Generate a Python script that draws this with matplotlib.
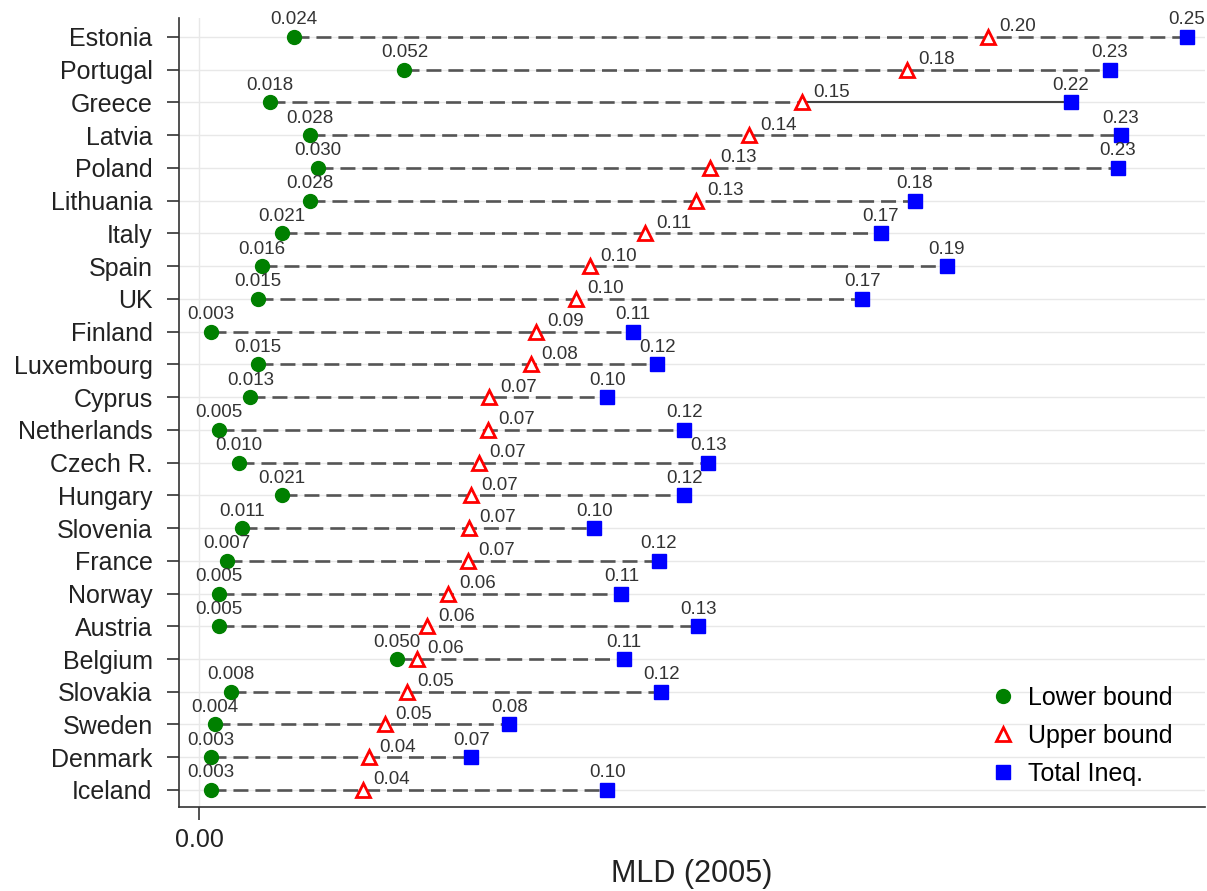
import matplotlib
matplotlib.use("Agg")
import matplotlib.pyplot as plt

plt.rcParams['font.family'] = ['Liberation Sans', 'DejaVu Sans']
plt.rcParams['lines.scale_dashes'] = False

# Daten (von oben nach unten)
countries = ['Estonia', 'Portugal', 'Greece', 'Latvia', 'Poland', 'Lithuania',
             'Italy', 'Spain', 'UK', 'Finland', 'Luxembourg', 'Cyprus',
             'Netherlands', 'Czech R.', 'Hungary', 'Slovenia', 'France',
             'Norway', 'Austria', 'Belgium', 'Slovakia', 'Sweden', 'Denmark',
             'Iceland']
lower = [0.024, 0.052, 0.018, 0.028, 0.030, 0.028, 0.021, 0.016, 0.015,
         0.003, 0.015, 0.013, 0.005, 0.010, 0.021, 0.011, 0.007, 0.005,
         0.005, 0.050, 0.008, 0.004, 0.003, 0.003]
upper = [0.1998, 0.1793, 0.1527, 0.1393, 0.1294, 0.1259, 0.1130, 0.0990,
         0.0955, 0.0854, 0.0841, 0.0735, 0.0732, 0.0709, 0.0689, 0.0684,
         0.0681, 0.0631, 0.0578, 0.0551, 0.0527, 0.0471, 0.0430, 0.0415]
total = [0.2500, 0.2305, 0.2206, 0.2333, 0.2325, 0.1811, 0.1725, 0.1892,
         0.1679, 0.1099, 0.1160, 0.1033, 0.1228, 0.1289, 0.1228, 0.1000,
         0.1163, 0.1069, 0.1264, 0.1076, 0.1170, 0.0785, 0.0689, 0.1033]
solid_rows = ['Greece']

fig = plt.figure(figsize=(12.07, 8.91), dpi=100)
ax = fig.add_axes([0.1483, 0.0943, 0.850, 0.8855])

ys = list(range(len(countries)))
for y in ys:
    ax.axhline(y, color='#e8e8e8', lw=1.0, zorder=0)
ax.axvline(0, color='#e8e8e8', lw=1.0, zorder=0)

for i, c in enumerate(countries):
    lo = min(lower[i], upper[i], total[i])
    hi = max(lower[i], upper[i], total[i])
    if c in solid_rows:
        ax.plot([lo, upper[i]], [i, i], color='#555555', lw=1.9,
                linestyle=(0, (10.8, 5)), zorder=1)
        ax.plot([upper[i], hi], [i, i], color='#444444', lw=1.5,
                marker='|', markersize=9, mew=1.5, zorder=1)
    else:
        ax.plot([lo, hi], [i, i], color='#555555', lw=1.9,
                linestyle=(0, (10.8, 5)), zorder=1)

ax.plot(lower, ys, 'o', color='#008000', markersize=10, label='Lower bound', zorder=3)
ax.plot(upper, ys, '^', markerfacecolor='white', markeredgecolor='red',
        markeredgewidth=2, markersize=10, label='Upper bound', zorder=3)
ax.plot(total, ys, 's', color='#0000ff', markersize=10.5, label='Total Ineq.', zorder=3)

for i in ys:
    ax.annotate('%.3f' % lower[i], (lower[i], i), xytext=(0, 9),
                textcoords='offset points', ha='center', va='baseline',
                fontsize=13.5, color='#333333')
    ax.annotate('%.2f' % upper[i], (upper[i], i), xytext=(7.5, 4),
                textcoords='offset points', ha='left', va='baseline',
                fontsize=13.5, color='#333333')
    ax.annotate('%.2f' % total[i], (total[i], i), xytext=(0, 9),
                textcoords='offset points', ha='center', va='baseline',
                fontsize=13.5, color='#333333')

ax.set_xlim(-0.00507, 0.2546)
ax.set_ylim(23.52, -0.58)
ax.set_yticks(ys)
ax.set_yticklabels(countries, fontsize=18, color='#222222')
ax.set_xticks([0.0])
ax.set_xticklabels(['0.00'], fontsize=18, color='#222222')
ax.tick_params(axis='y', length=9, width=1.2, pad=10, color='#333333')
ax.tick_params(axis='x', length=9, width=1.2, pad=6, color='#333333')
ax.set_xlabel('MLD (2005)', fontsize=22, color='#222222', labelpad=5)

for s in ['top', 'right']:
    ax.spines[s].set_visible(False)
for s in ['left', 'bottom']:
    ax.spines[s].set_color('#333333')
    ax.spines[s].set_linewidth(1.2)

ax.legend(loc='upper left', bbox_to_anchor=(0.812, 0.2414),
          bbox_transform=fig.transFigure, frameon=False, fontsize=18,
          handlelength=1, handletextpad=0.5, labelspacing=0.56,
          borderaxespad=0, numpoints=1)

plt.savefig('out.png', dpi=100)
plt.close()
